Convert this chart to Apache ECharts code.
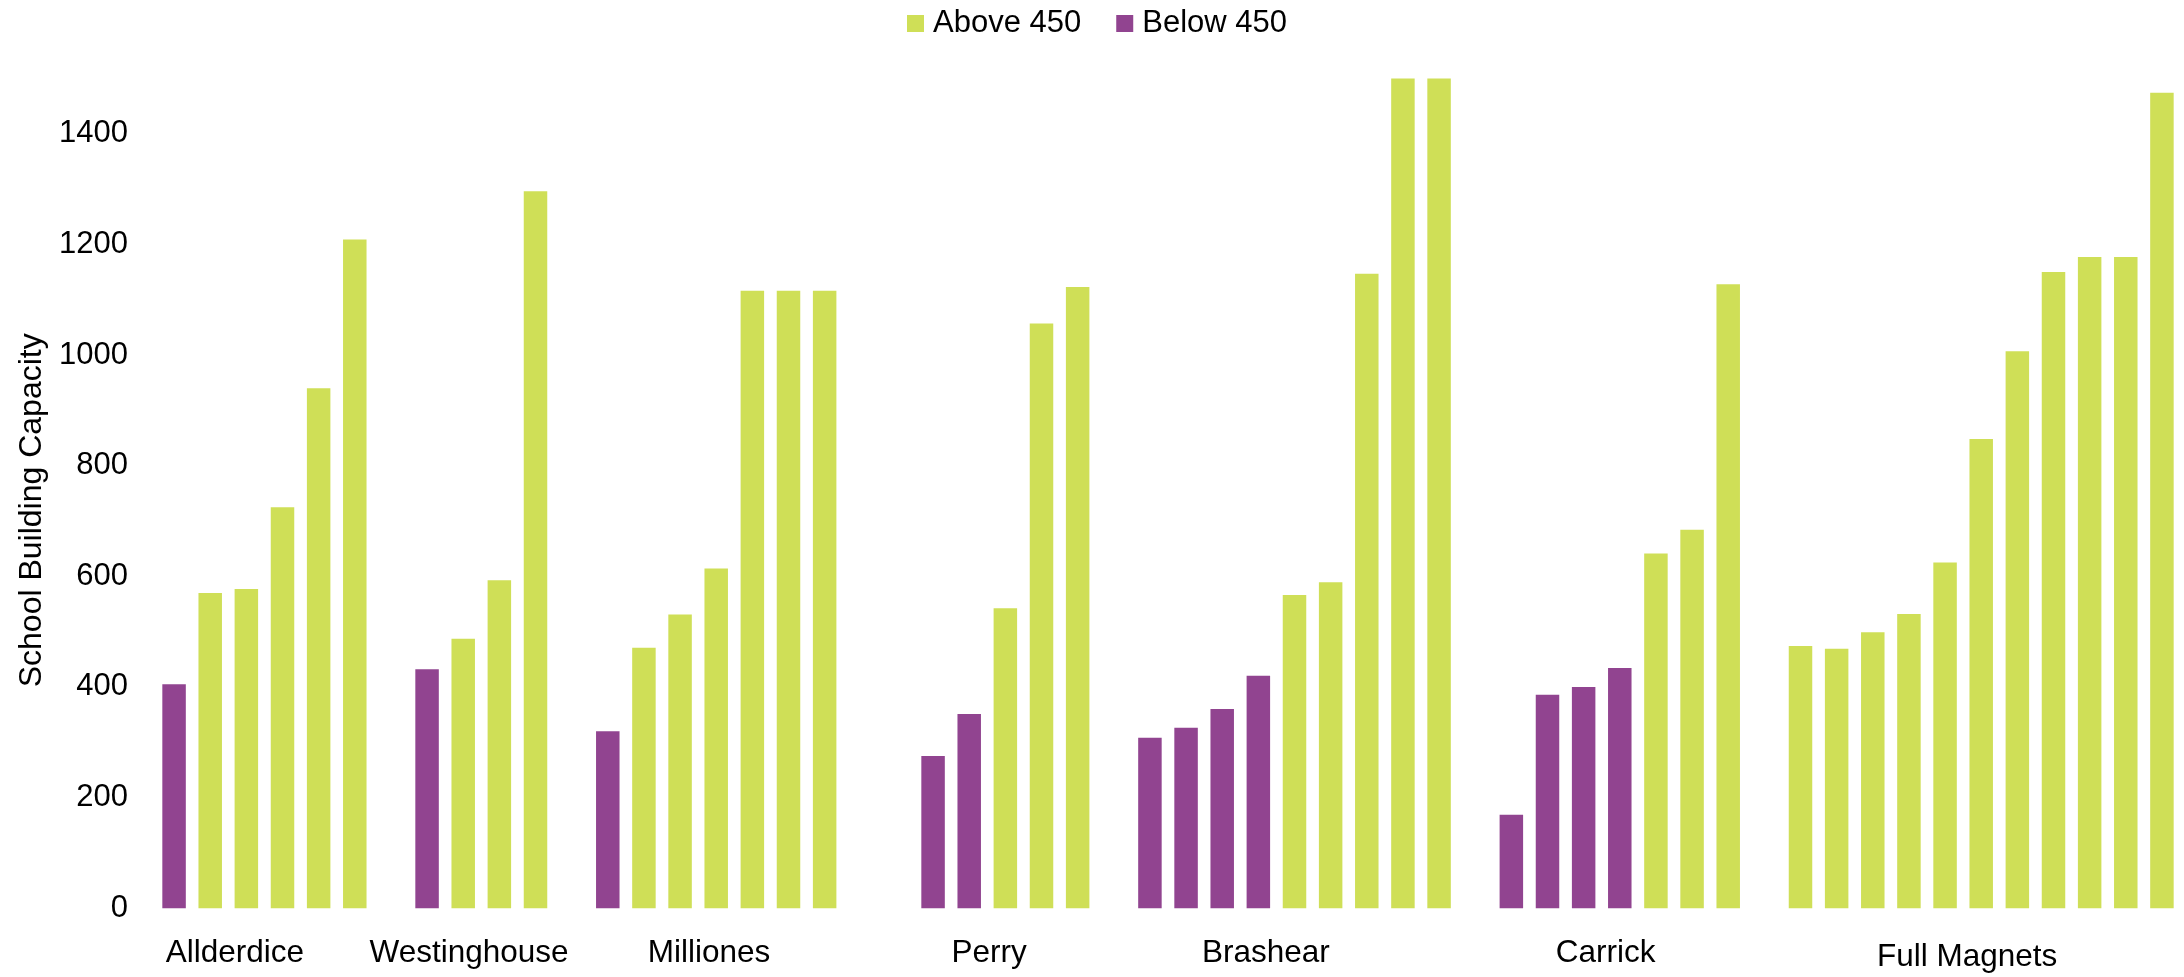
<!DOCTYPE html>
<html>
<head>
<meta charset="utf-8">
<title>School Building Capacity</title>
<script src="https://cdn.jsdelivr.net/npm/echarts@6/dist/echarts.min.js"></script>
<style>
  html, body { margin: 0; padding: 0; background: #fff; }
  #chart { width: 2184px; height: 977px; }
</style>
</head>
<body>
<div id="chart"></div>
<script>
  // school groups, left to right
  const groupNames = ['Allderdice', 'Westinghouse', 'Milliones', 'Perry', 'Brashear', 'Carrick', 'Full Magnets'];
  // empty slots placed before each group
  const gapsBefore = [0, 1, 1, 2, 1, 1, 1];
  // where each group label sits, in slot units along the axis
  const groupLabelAt = [1.68, 8.16, 14.8, 22.55, 30.21, 39.61, 49.61];

  // building capacity per school
  const allderdice = [405, 570, 577, 725, 940, 1209];
  const westinghouse = [432, 487, 593, 1296];
  const milliones = [320, 471, 531, 614, 1116, 1116, 1116];
  const perry = [275, 351, 542, 1057, 1123];
  const brashear = [308, 326, 360, 420, 566, 589, 1147, 1500, 1500];
  const carrick = [169, 386, 400, 434, 641, 684, 1128];
  const fullMagnets = [474, 469, 499, 532, 625, 848, 1007, 1150, 1177, 1177, 1474];

  const threshold = 450;
  const yTicks = [0, 200, 400, 600, 800, 1000, 1200, 1400];

  /** 把各组展开成一个个槽位 */
  const groupValues = [allderdice, westinghouse, milliones, perry, brashear, carrick, fullMagnets];
  const slots = [];
  const above = [];
  const below = [];
  groupValues.forEach((values, g) => {
    for (let i = 0; i < gapsBefore[g]; i++) {
      slots.push('gap ' + g + '-' + i);
      above.push(null);
      below.push(null);
    }
    values.forEach((v, i) => {
      slots.push(groupNames[g] + ' ' + (i + 1));
      above.push(v >= threshold ? v : null);
      below.push(v < threshold ? v : null);
    });
  });

  const font = '"Liberation Sans", Arial, sans-serif';
  const chart = echarts.init(document.getElementById('chart'));

  chart.setOption({
    animation: false,
    backgroundColor: '#ffffff',
    textStyle: { fontFamily: font, color: '#000' },
    legend: {
      top: 3,
      left: 902,
      itemWidth: 17,
      itemHeight: 17,
      itemGap: 35,
      icon: 'rect',
      textStyle: { fontFamily: font, fontSize: 31, color: '#000', padding: [0, 0, 0, 4] },
      data: ['Above 450', 'Below 450'],
    },
    grid: {
      left: 156,
      right: 4,
      top: 78.4,
      bottom: 68.8,
    },
    xAxis: [
      {
        type: 'category',
        data: slots,
        axisLine: { show: false },
        axisTick: { show: false },
        axisLabel: { show: false },
      },
      {
        type: 'value',
        position: 'bottom',
        min: -0.5,
        max: slots.length - 0.5,
        axisLine: { show: false },
        axisTick: { show: false },
        splitLine: { show: false },
        axisLabel: {
          customValues: groupLabelAt,
          margin: 29,
          fontFamily: font,
          fontSize: 31.5,
          color: '#000',
          formatter: (value) => {
            const idx = groupLabelAt.findIndex(p => Math.abs(p - value) < 1e-6);
            if (idx < 0) {
              return '';
            }
            // 最后一个标签在原图里略低一些
            return idx === groupNames.length - 1 ? '{low|' + groupNames[idx] + '}' : groupNames[idx];
          },
          rich: {
            low: { fontFamily: font, fontSize: 31.5, color: '#000', lineHeight: 41 },
          },
        },
      },
    ],
    yAxis: {
      type: 'value',
      min: 0,
      max: 1500,
      interval: 200,
      name: 'School Building Capacity',
      nameLocation: 'middle',
      nameGap: 106,
      nameTextStyle: { fontFamily: font, fontSize: 32, color: '#000', padding: [0, 34, 0, 0] },
      axisLine: { show: false },
      axisTick: { show: false },
      splitLine: { show: false },
      axisLabel: {
        margin: 28,
        fontFamily: font,
        fontSize: 31,
        color: '#000',
        showMaxLabel: false,
        formatter: (value) => (yTicks.includes(value) ? String(value) : ''),
      },
    },
    series: [
      {
        name: 'Above 450',
        type: 'bar',
        stack: 'cap',
        xAxisIndex: 0,
        barWidth: '65%',
        itemStyle: { color: '#cfdf57' },
        data: above,
      },
      {
        name: 'Below 450',
        type: 'bar',
        stack: 'cap',
        xAxisIndex: 0,
        barWidth: '65%',
        itemStyle: { color: '#914490' },
        data: below,
      },
    ],
  });
</script>
</body>
</html>
